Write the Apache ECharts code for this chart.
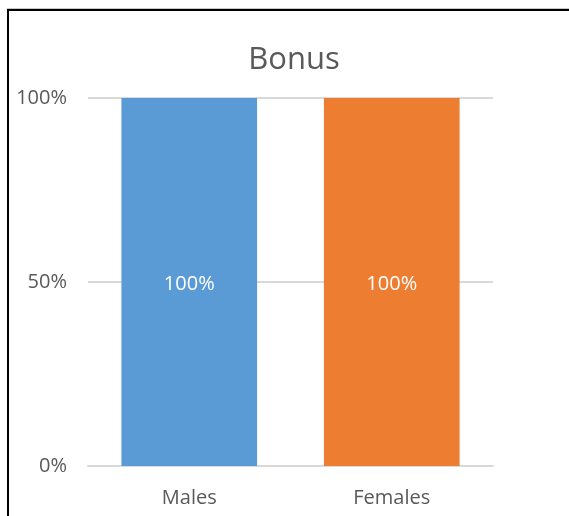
<!DOCTYPE html>
<html>
<head>
<meta charset="utf-8">
<script src="https://cdn.jsdelivr.net/npm/echarts@6/dist/echarts.min.js"></script>
<style>
  html, body { margin: 0; padding: 0; background: #fff; }
  #chart { position: absolute; left: 0; top: 0; width: 569px; height: 516px; }
  #frame { position: absolute; left: 7px; top: 9px; width: 700px; height: 700px;
           border-left: 2px solid #000; border-top: 2px solid #000; pointer-events: none; }
  #shade { position: absolute; left: 7px; top: 8px; width: 600px; height: 1px; background: #c8c8c8; }
</style>
</head>
<body>
<div id="chart"></div>
<div id="shade"></div>
<div id="frame"></div>
<script>
const titleText = 'Bonus';
const categories = ['Males', 'Females'];
const values = [1.0, 1.0];
const barColors = ['#5b9bd5', '#ed7d31'];
const yTicks = [0, 0.5, 1];

const chart = echarts.init(document.getElementById('chart'));
const font = '"Open Sans", sans-serif';
const pct = v => Math.round(v * 100) + '%';

chart.setOption({
  animation: false,
  backgroundColor: '#fff',
  title: {
    text: titleText,
    left: 289,
    top: 40,
    textAlign: 'center',
    textStyle: { fontFamily: font, fontSize: 31, fontWeight: 'normal', color: '#595959' }
  },
  grid: { left: 88, right: 76, top: 98, bottom: 50, containLabel: false },
  xAxis: {
    type: 'category',
    data: categories,
    axisLine: { show: true, lineStyle: { color: '#d9d9d9', width: 2 } },
    axisTick: { show: false },
    axisLabel: { fontFamily: font, fontSize: 20, color: '#595959', margin: 22 }
  },
  yAxis: {
    type: 'value',
    min: yTicks[0],
    max: yTicks[yTicks.length - 1],
    interval: yTicks[1] - yTicks[0],
    axisLine: { show: false },
    axisTick: { show: false },
    splitLine: { lineStyle: { color: '#d9d9d9', width: 2 } },
    axisLabel: { fontFamily: font, fontSize: 20, color: '#595959', margin: 21, formatter: pct }
  },
  series: [{
    type: 'bar',
    data: values.map((v, i) => ({ value: v, itemStyle: { color: barColors[i] } })),
    barWidth: '67%',
    label: {
      show: true,
      position: 'inside',
      offset: [0, 2],
      fontFamily: font,
      fontSize: 20,
      color: '#ffffff',
      formatter: p => pct(p.value)
    }
  }]
});
</script>
</body>
</html>
